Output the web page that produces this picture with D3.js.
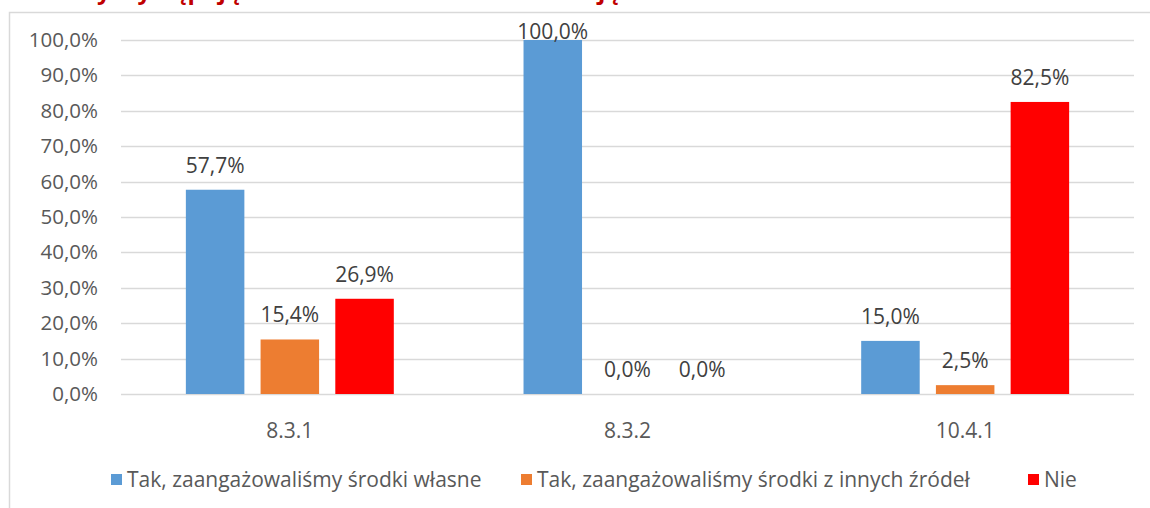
<!DOCTYPE html>
<html>
<head>
<meta charset="utf-8">
<script src="https://cdn.jsdelivr.net/npm/d3@7"></script>
<style>
  html, body { margin: 0; padding: 0; background: #fff; }
  svg { display: block; font-family: "Open Sans", sans-serif; }
</style>
</head>
<body>
<div id="chart"></div>
<script>
// Data
const categories = ["8.3.1", "8.3.2", "10.4.1"];
const seriesNames = [
    "Tak, zaangażowaliśmy środki własne",
    "Tak, zaangażowaliśmy środki z innych źródeł",
    "Nie"
];
const seriesColors = ["#5b9bd5", "#ed7d31", "#ff0000"];
const ownFunds = [57.7, 100.0, 15.0];
const otherSources = [15.4, 0.0, 2.5];
const noFunds = [26.9, 0.0, 82.5];
const yTicks = [0, 10, 20, 30, 40, 50, 60, 70, 80, 90, 100];
const titleText = "Czy występują dodatkowe środki na realizację działań w ramach osi";

const seriesValues = [ownFunds, otherSources, noFunds];

const width = 1150, height = 508;
const margin = { left: 121, right: 16, top: 40, bottom: 114 };
const fmt = v => v.toFixed(1).replace(".", ",") + "%";

const svg = d3.select("#chart").append("svg")
    .attr("width", width)
    .attr("height", height);

// chart frame (only left and top edges are visible)
svg.append("path")
    .attr("d", `M9.5,${height} V12.5 H${width}`)
    .style("fill", "none")
    .style("stroke", "#d9d9d9")
    .style("stroke-width", 1.5);

// title, cut off by the top of the picture
svg.append("text")
    .attr("x", 70)
    .attr("y", -1)
    .style("fill", "#c00000")
    .style("font-weight", "bold")
    .style("font-size", "24px")
    .text(titleText);

// Scales
const x0 = d3.scaleBand()
    .domain(categories)
    .range([margin.left, width - margin.right]);

const x1 = d3.scaleBand()
    .domain(d3.range(seriesNames.length))
    .range([0, x0.bandwidth()])
    .paddingInner(0.217)
    .paddingOuter(0.868);

const y = d3.scaleLinear()
    .domain([0, 100])
    .range([height - margin.bottom, margin.top]);

// Gridlines
svg.append("g")
    .selectAll("line")
    .data(yTicks)
    .enter().append("line")
    .attr("x1", margin.left)
    .attr("x2", width - margin.right)
    .attr("y1", d => Math.round(y(d)) + 0.5)
    .attr("y2", d => Math.round(y(d)) + 0.5)
    .style("stroke", "#d9d9d9")
    .style("stroke-width", 1.5);

// Y axis labels
const yAxis = svg.append("g")
    .attr("transform", `translate(${margin.left},0)`)
    .call(d3.axisLeft(y).tickValues(yTicks).tickFormat(fmt).tickSize(0).tickPadding(23));
yAxis.select(".domain").remove();
yAxis.selectAll("text")
    .style("font-family", "'Open Sans', sans-serif")
    .style("font-size", "20.5px")
    .style("fill", "#595959");

// X axis labels
const xAxis = svg.append("g")
    .attr("transform", `translate(0,${y(0)})`)
    .call(d3.axisBottom(x0).tickSize(0).tickPadding(29));
xAxis.select(".domain").remove();
xAxis.selectAll("text")
    .style("font-family", "'Open Sans', sans-serif")
    .style("font-size", "21px")
    .style("fill", "#595959");

// Bars
const rows = categories.map((c, ci) => ({
    cat: c,
    vals: seriesValues.map((s, si) => ({ si: si, v: s[ci] }))
}));

const groups = svg.append("g")
    .selectAll("g.group")
    .data(rows)
    .enter().append("g")
    .attr("class", "group")
    .attr("transform", d => `translate(${x0(d.cat)},0)`);

groups.selectAll("rect")
    .data(d => d.vals)
    .enter().append("rect")
    .attr("x", d => x1(d.si))
    .attr("width", x1.bandwidth())
    .attr("y", d => y(d.v))
    .attr("height", d => y(0) - y(d.v))
    .style("fill", d => seriesColors[d.si]);

// value labels sit above bars, but are kept inside the plot area
groups.selectAll("text.value")
    .data(d => d.vals)
    .enter().append("text")
    .attr("class", "value")
    .attr("x", d => x1(d.si) + x1.bandwidth() / 2)
    .attr("y", d => Math.max(y(d.v) - 17, 39))
    .attr("text-anchor", "middle")
    .style("font-size", "21px")
    .style("fill", "#404040")
    .text(d => fmt(d.v));

// Legend
const legendX = [111, 521, 1028];
const legend = svg.append("g")
    .selectAll("g.legend")
    .data(seriesNames)
    .enter().append("g")
    .attr("class", "legend")
    .attr("transform", (d, i) => `translate(${legendX[i]},480)`);

legend.append("rect")
    .attr("x", 0)
    .attr("y", -6)
    .attr("width", 11)
    .attr("height", 11)
    .style("fill", (d, i) => seriesColors[i]);

legend.append("text")
    .attr("x", 16)
    .attr("y", 0)
    .attr("dy", "0.35em")
    .style("font-size", "21px")
    .style("fill", "#595959")
    .text(d => d);
</script>
</body>
</html>
